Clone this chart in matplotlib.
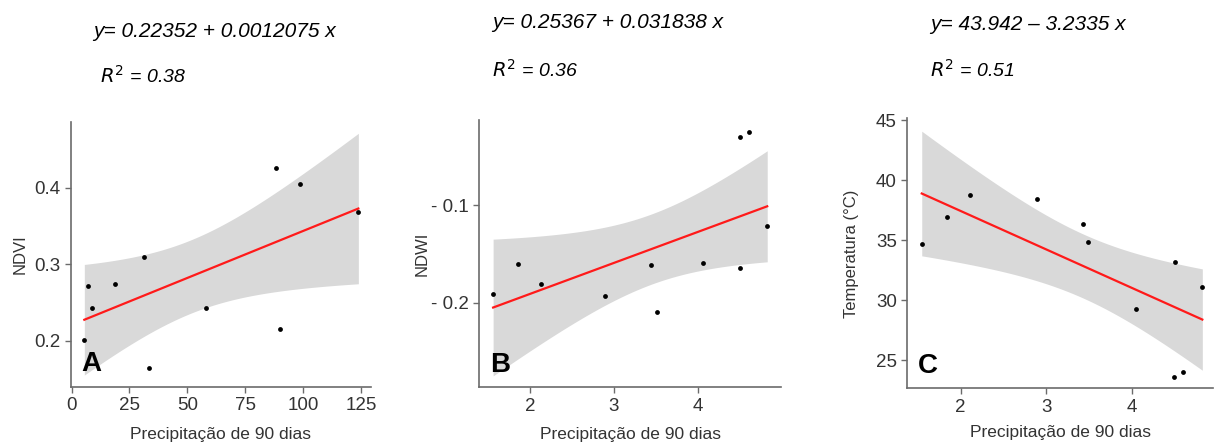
import matplotlib
matplotlib.use("Agg")
import matplotlib.pyplot as plt
import numpy as np

plt.rcParams['font.family'] = ['Liberation Sans', 'DejaVu Sans']

# dados
precip_a = [5.5, 7.2, 8.9, 18.7, 31.2, 33.4, 57.9, 88.4, 90.0, 98.6, 123.8]
ndvi = [0.201, 0.272, 0.243, 0.274, 0.309, 0.164, 0.243, 0.425, 0.216, 0.404, 0.368]

precip_b = [1.56, 1.86, 2.13, 2.90, 3.44, 3.51, 4.06, 4.506, 4.51, 4.61, 4.83]
ndwi = [-0.191, -0.160, -0.181, -0.1935, -0.161, -0.210, -0.159, -0.030, -0.165, -0.025, -0.121]

precip_c = [1.545, 1.84, 2.11, 2.89, 3.43, 3.49, 4.05, 4.50, 4.49, 4.60, 4.82]
temp = [34.67, 36.92, 38.78, 38.42, 36.31, 34.86, 29.22, 33.19, 23.61, 23.97, 31.08]

equacoes = ["y= 0.22352 + 0.0012075 x", "y= 0.25367 + 0.031838 x", "y= 43.942 \u2013 3.2335 x"]
r2 = ["0.38", "0.36", "0.51"]
letras = ["A", "B", "C"]
ylabels = ["NDVI", "NDWI", "Temperatura (\u00b0C)"]


# ajuste linear + intervalo de confianca 95%
def lm_band(x, y, n=100):
    x = np.asarray(x, float)
    y = np.asarray(y, float)
    b, a = np.polyfit(x, y, 1)
    xs = np.linspace(x.min(), x.max(), n)
    res = y - (a + b * x)
    s = np.sqrt(np.sum(res ** 2) / (len(x) - 2))
    se = s * np.sqrt(1 / len(x) + (xs - x.mean()) ** 2 / np.sum((x - x.mean()) ** 2))
    fit = a + b * xs
    t = 2.262
    return xs, fit, fit - t * se, fit + t * se


fig = plt.figure(figsize=(12.14, 4.44), dpi=100)

axes_pos = [
    [0.0582, 0.129, 0.2471, 0.597],
    [0.3948, 0.1277, 0.2485, 0.602],
    [0.7474, 0.1254, 0.2518, 0.608],
]
dados = [(precip_a, ndvi), (precip_b, ndwi), (precip_c, temp)]
xlims = [(-0.4, 129.1), (1.395, 4.994), (1.377, 4.945)]
ylims = [(0.14, 0.486), (-0.287, -0.0126), (22.64, 45.14)]
xticks = [[0, 25, 50, 75, 100, 125], [2, 3, 4], [2, 3, 4]]
yticks = [[0.2, 0.3, 0.4], [-0.2, -0.1], [25, 30, 35, 40, 45]]
yticklabels = [["0.2", "0.3", "0.4"], ["- 0.2", "- 0.1"], ["25", "30", "35", "40", "45"]]
eq_x = [93, 492, 930]
eq_y = [36.7, 28.3, 30]
r_x = [100, 492, 930]
r_y = [83, 76.7, 76.7]
ylab_x = [20, 421.7, 851.7]
xlab_pad = [9, 9, 7]

W, H = 1214, 444
for i in range(3):
    ax = fig.add_axes(axes_pos[i])
    x, y = dados[i]
    xs, fit, lo, hi = lm_band(x, y)
    ax.fill_between(xs, lo, hi, color="#d9d9d9", lw=0, zorder=1)
    ax.plot(xs, fit, color="#ff1a1a", lw=1.6, zorder=2)
    ax.scatter(x, y, s=12, color="black", zorder=3, lw=0)
    ax.set_xlim(xlims[i])
    ax.set_ylim(ylims[i])
    ax.set_xticks(xticks[i])
    ax.set_yticks(yticks[i])
    ax.set_yticklabels(yticklabels[i])
    for side in ["top", "right"]:
        ax.spines[side].set_visible(False)
    for side in ["left", "bottom"]:
        ax.spines[side].set_color("#6b6b6b")
        ax.spines[side].set_linewidth(1.2)
    ax.tick_params(colors="#6b6b6b", labelcolor="#333333", labelsize=13.5, length=4, width=1)
    ax.set_xlabel("Precipita\u00e7\u00e3o de 90 dias", fontsize=12.5, color="#333333", labelpad=xlab_pad[i])
    ax.text(0.035, 0.035, letras[i], transform=ax.transAxes, fontsize=20, fontweight="bold",
            ha="left", va="bottom")
    # rotulo y
    fig.text(ylab_x[i] / W, axes_pos[i][1] + axes_pos[i][3] / 2, ylabels[i], rotation=90,
             fontsize=12, color="#333333", ha="center", va="center")
    # equacoes
    fig.text(eq_x[i] / W, 1 - eq_y[i] / H, equacoes[i], fontsize=15, style="italic",
             ha="left", va="baseline")
    fig.text(r_x[i] / W, 1 - r_y[i] / H, "$\\mathit{R}^{2}$ = " + r2[i], fontsize=14,
             style="italic", ha="left", va="baseline")

fig.savefig("out.png", dpi=100)
